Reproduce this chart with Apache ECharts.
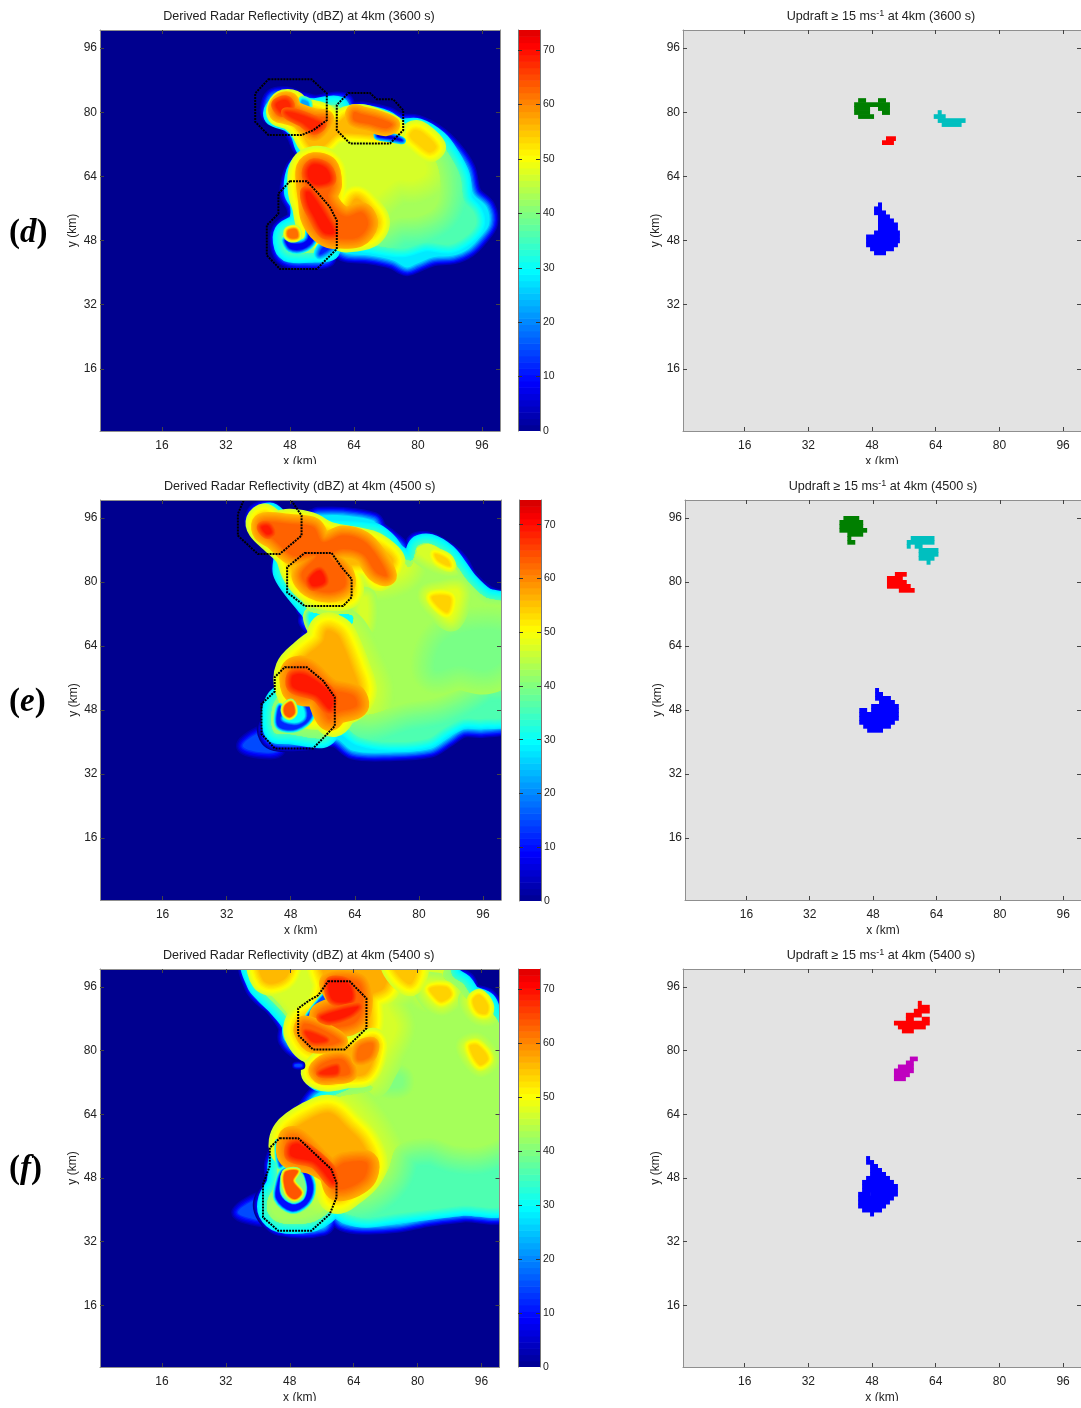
<!DOCTYPE html>
<html><head><meta charset="utf-8">
<style>html,body{margin:0;padding:0;background:#fff}#c{width:1081px;height:1408px}</style>
<script src="https://cdn.jsdelivr.net/npm/echarts@6/dist/echarts.min.js"></script>
</head><body><div id="c"></div>
<script>
// ---- tick labels ----
const kmTicks = [16, 32, 48, 64, 80, 96];
const dbzLabels = [0, 10, 20, 30, 40, 50, 60, 70];
const dbzTicks = [10, 20, 30, 40, 50, 60, 70];
const times = [3600, 4500, 5400];
const letters = ['d', 'e', 'f'];
const colorbarTop = [73.7, 74.6, 73.7];

// ---- reflectivity isolines (km): [dBZ inside, dBZ outside, gradient width km, x,y,x,y,...] ----
const reflectivityD = [
[28,0,2.5, 42.6,80.5,43.8,83.8,47.2,84.25,50.1,83.2,54.25,82.2,57.2,82.6,59.7,83,61.75,82.6,62.6,80.5,66.3,80.5,72.2,79.25,75.5,77.6,79.7,77.2,84.7,74.7,88.8,70.9,92.2,65.9,93.8,59.7,97.2,56.3,97.8,52.2,95.5,48.8,92.6,45.9,88.8,44.25,83.8,43.8,79.7,42.2,77.2,41.3,73.8,43,68,44.25,62.2,44.7,59.7,45.9,58,46.3,57.2,43.4,52.2,43,47.6,43.4,45.5,45.5,45.5,50.5,49.25,53.4,49.25,56.3,47.6,59.7,48.4,64.7,50.1,67.2,53.8,68.8,50.9,70.9,49.25,74.25,46.75,77.6,43.4,78.8],
[36,28,2.5, 44,80.5,47,83,50,81.5,54,81,57,81.5,60,81.5,61.5,79.5,66,79.5,72,78,75,76,80,76,85,73,88,69,90.5,64,91.5,58,94,55,94.5,52,92,49,88,47,82,47.5,76,46,68,47,60,48,58.5,48.5,58,45.5,54,45,48,45,46.5,46.5,46.5,50,50,52.5,50.5,57,49,60,49.5,65,51.5,67.5,55.5,68.5,52,71,50.5,75,48,77.5,44,79],
[43,36,7, 46,81.5,49,81,54,80,58,80,61,79.5,66,78.5,72,76,76,74.5,80,74,83,70,85,66,85.5,60,84,56,80,54,75,53.5,70,51,62,50,58,47.5,54,46.5,48,47,48,50,51.5,53,51.5,57,50.5,60,50.5,65,53,67.5,57,68,54,71,52,75,49,78,45.5,79.5],
[47,43,6, 46.5,81,50,80.5,54,79.5,58,79.5,61,78.5,66,77,71,74.5,74,71,78,72,81,69,82,65,79,63,75,63,72,61,69,58,67,54.5,62,52,60,49,58.5,47,54,48,52,50,52.5,56,51,60,51,65,53,67.5,57,68,55,71,53,75,50,78,47,79.5],
[54,47,2.5, 79,75.5,81,75,84.5,71.5,83,70,80,72,78,74],
[56,47,2.5, 44.5,80.5,46,83,49,83,51,81,54,80.5,57,79.5,58.5,78,60,77.5,62,79,66,79.5,71,78,74.5,76,73,74,66,74.5,60,74.5,57,72,54.5,70.5,52.5,72,50.5,75.5,48,78,45,79],
[57,47,3.5, 51,65,52.5,67.5,56,68,58.5,66,59,62,59,57,62,55.5,64.5,58.5,67.5,56,69.5,52.5,67.5,49.5,62,48.5,60,49,58,49,55,49.5,53,52,52,56.5,51,60],
[8,32,1, 46.8,48,48,46,51,45.8,53.8,48,54,52,53,52,52.5,48.5,51,47.3,48,47.3],
[12,30,1.5, 55.5,44.5,58.5,46.5,58,47.5,56,46],
[5,28,1, 70,74.6,73,74,76,73,73,73.5,70,74],
[22,38,1, 51,83,52.5,82.5,52.5,81,51,81],
[63,56,2, 44.5,81,46,83,48,83,49,81,51,80,54,79,57,78.5,56,76,54,74.5,52,76,50,78,47,79,45,79.5],
[63,56,2, 64,80,66,79.5,70,78.5,73.5,77,72,76,68,77,64,78],
[63,57,2.5, 52,66,54,67.5,57.5,66.5,58.5,62,57.5,59,59,56,62,54,66,55,67.5,52,65,48.8,60,48.5,58,48.5,55,50.5,53,54,52.5,58,52,62],
[62,45,1, 47.5,50.5,49.5,50.8,50,49,49,48.5,47.5,49],
[69,63,1.5, 52.5,65.5,54,67,57,66,58,63,55,62,53,63],
[69,63,1.5, 52,60,53,60,57,54,59,50,56.5,50,54,54,52.5,57],
[68,63,1.2, 44.5,82,47,83,48,81.5,46,80],
[68,63,1.2, 47,80,50,79.5,54,78,56,77,54,75.5,51,77.5,48,79],
];
const reflectivityE = [
[14,0,2, 49,60,52,66,54,71,60,70,60,66,56,64,52,60],
[15,0,2, 36,39,39.5,42,44,43,45,38,40,37.5],
[28,0,2.5, 38.6,95.75,39.8,97.8,42.75,98.25,46,95.75,50.7,95.3,54,96.2,54.8,96.6,61,96.6,68.6,95.3,69.8,93.25,71.9,91.6,75.25,88.7,76,86.2,78.6,86.6,79,90,82.75,90.3,87.75,87.4,90.25,85,92.75,80.75,97,77,100.75,75.75,102,75,102,45,96,43.25,91,43.25,87,40.75,82.75,38.25,72.75,37.4,63.6,37.8,59.4,40.75,55.25,40.75,51,40,43.6,40.4,42,43.25,43.6,46.6,44,49.5,47.3,52.8,48.2,57.4,49.4,60.75,53.6,65,54.6,67.4,52,70.3,52.75,72.4,51.5,73.25,51,75,49,77.4,47.3,80,45.25,83.25,45.25,87,41.5,91.2,39,93.7],
[36,28,2.5, 39.4,95.3,42.75,97.4,46,95,50.7,94.5,57.75,93.25,68.6,92.4,72,90,74.4,87,78.2,85.3,79.8,89,82.75,89.5,87,87,89.4,84,92.3,80,96.5,76.2,102,74,102,47,96,45.75,91,45.75,86,43.25,82,40.75,72.75,40,65.25,41.2,61.5,43.7,58.6,43.25,56,41,47.75,42,44,42.4,43.2,46.6,44.4,50.75,48.6,54,49,57.4,50.7,60.75,54.4,64,55.25,68.25,54,70.3,53.2,72.4,52,74,48.2,78.7,46,82.4,46,87.4,42,91.6],
[43,36,7, 40.25,95.75,42.75,97,45.25,95,51,93.7,57.75,92.4,68.6,91.2,72.75,87.4,77.75,83.7,80.25,88.25,86,86.6,91,80.75,96,75,102,73.25,102,58,96,57,91,54,84.4,51,76,49.5,67.75,47,62.75,47.4,58.6,45.75,57,44,49.4,44,45.25,44,45.25,48.25,49,52.8,49.4,57.4,52,60.75,55.25,63.7,56.5,67.8,62,67.4,63.6,71.6,57.75,72,52.75,72.8,50.7,75.75,47.75,80,46.5,83.7,46,86.6,42,90.75,40.25,93.25],
[39.5,43,6, 84,58,90,59,97,58,102,62,102,67,94,68,86,65],
[30,45,1.5, 52.75,72,57.75,71.6,62,72.4,63.6,70.75,62,67.8,60.25,68.7,57,69,54,67.8],
[47,43,5, 40.75,96.6,43.6,97,46.5,94.5,52,93.7,58.6,92.4,68.6,90.3,73.6,86.2,77,84,75.25,81.6,69.4,80,63.6,80.75,63.6,76.2,61.5,73.7,57,73.7,51.5,75.75,47.75,80.75,46.5,85.75,42.75,90,40.25,92.8],
[47,43,2.5, 79.4,88.25,82.75,89.5,87,86.6,88.6,83.7,84.4,84.5,80.7,86.6],
[48,43,3, 82.3,76.6,86,77.8,89.4,78.25,90.25,76.6,88.2,70.75,86,72],
[47,43,2.5, 65.5,76,67,76,67,69,65.5,69],
[47,43,6, 55.25,67.4,57.75,68.7,61,67.4,62.75,65,66,58.25,68,53.25,67,49.5,63.6,47.4,59.4,45.75,57,45,55,47,50,50,49.5,57.4,52.75,61.2,55.7,64],
[56,47,3, 39.8,95.3,41.5,96.6,44,95,47.75,95.3,52.75,94.5,57.75,92,67.75,90,72,87.4,73.6,85,70.25,80.75,67,84,62,83.7,63.2,80,62.75,76.6,58.6,75.75,54.4,76.6,51,79,48.6,82.4,47,86.6,43.2,90.3,40.25,93.25],
[54,47,1.5, 84,87,87,85.75,87.75,84,84.8,85.3],
[54,48,1.5, 83.2,76.2,87.75,76.2,87,72.4],
[57,47,4.5, 57,67.8,59.4,67,60.7,65,63.5,58,65,53,63.5,50,60.25,48,58.6,45.75,57,47.4,52,48,48.6,53.25,48.6,58,52,61.6,56,65],
[12,36,.8, 45.25,49,44.8,44,49.4,43.25,53.2,46.6,51.5,51.6,49.8,50.75,49.8,46.6,47,45.4],
[30,12,.8, 48.5,50,50.5,49.5,51.5,46.5,50,45,47.5,45,46,46],
[15,30,.8, 59.5,92.6,62,92.4,64.5,92,62,92],
[63,56,2.5, 40.7,94.5,42.3,95,47.75,94.5,53.6,93.7,56,90,61,91.6,66,90.3,69.4,86.6,72,81.6,69.4,82.4,66,87,61,88.25,57.75,86.6,61,82.8,61.5,79,57.75,77.4,52.75,78.7,50.7,82,54.4,86.6,48.6,86.6,43.6,90.75,41,92.4],
[63,57,3, 48.6,58,52,58.25,57.75,53.25,63.6,51.6,64.4,49,59.4,47.4,57.75,45.75,56.5,47.4,54.4,51.6,51,52,48.6,53.25],
[64,40,.8, 46.5,49,48.2,50,49,47.4,47.75,46.2,46.5,47],
[69,63,1.2, 40.7,93.7,42.3,94,43.2,92.4,42,92],
[69,63,1.2, 52.75,80.75,55.25,82.8,56.5,80,53.6,79],
[69,63,1.5, 48.6,56.6,52,56.6,58.2,51.6,57.75,48.25,54.4,51.6,48.6,53.7],
];
const reflectivityF = [
[15,0,2, 35,39.3,38.8,42.25,42.2,43,41.75,37.7,38.8,37.7],
[14,0,1.5, 49,64,52,67,55,70,53,68,50,62],
[28,0,2.5, 38,101.8,87.2,101.8,88.4,99.3,92.2,97.7,93.8,94.75,97.6,93.5,99.7,90.2,102,86,102,40,91.3,39,83,38,74.7,36.4,66.3,36,61.3,36.8,58.8,39,56.3,35.6,45.5,35.6,42.2,38.5,41.3,41.8,43.8,46.8,43.8,51.8,46.75,58.5,48.4,61,51.3,64.3,54.7,68.9,63,72.25,58,71.4,55.5,71.4,53.4,73.5,53.8,76.8,56.3,79.3,53.8,79.75,50.5,79.75,47.2,82.7,47.2,86,43.8,91,41.3,93,38.8,96],
[36,28,2.5, 38.8,102,87,102,88.8,98.5,91.3,96.8,93.4,94,97.2,92.25,98.8,88.5,102,84.3,102,42,91.3,41,83,40,74.7,39,67.2,38,62.2,39,58.8,41,57.2,39,53,36.8,45.5,36.8,42.6,39.3,42.6,42.7,44.7,46.8,45,51.8,47.2,58.5,49.25,61,53,64.3,57.2,67.7,63.8,71,62.2,72.25,55.5,72.25,53.8,74.3,55,77.7,58,80.2,53,80.6,48.8,84,48.4,86.8,44.7,91.4,41.75,94.3,39.7,96.8],
[43,36,7, 39.7,102,86.3,102,86.3,98.5,89.7,96,92.6,92.7,97.2,91,102,82.7,102,60,96.3,56,89.7,56,83,58,75,56,72,49,67,45,60.5,44,58,41.8,55.5,39.3,46.3,37.7,43.4,40.2,44.25,44.3,46,47.7,46.3,51.8,48,58.5,50.5,61,54.7,64.3,59.7,68,68,69.75,68.8,71,64.7,72.7,62.2,73.5,56.3,72.7,54.7,74.3,56.3,77.7,60.5,80.2,53,81.4,49.25,84.75,48.8,87.25,45.5,91.8,42.6,94.75,40.5,97.25],
[40,43,3, 72,74,76,73.5,76,71,72,71],
[47,43,5, 40.5,102,86.3,102,85.5,97.7,83,94.3,79.7,96.8,74.7,95.2,72.2,91.8,74.7,86,72.2,80,69.7,75.2,68,72.7,60.5,72.7,56.3,72.2,53.8,74.3,55.5,77.3,62.2,80.2,53,81,50,84.3,49.7,87.7,46.3,92.7,43,95.2,41,97.7],
[47,43,2.5, 81.3,96.8,86.3,96.8,89.7,94.3,86.3,91,83,92.7],
[47,43,2.5, 92.6,92.7,95,94.3,98.4,91.8,98,88.5,94.7,88.9],
[47,43,2.5, 91.75,81,95,82.25,98.4,77.7,95.5,75.6],
[47,43,6, 59.7,67.7,56.3,66,52.2,61.8,48,58.5,47.2,54.3,50,48,59.7,43.5,62.2,44.3,66.3,46,69,49,71,53.5,69,58.5,66.3,62.5,63,66],
[56,47,3, 40.5,102,48,102,47.2,98.5,43.8,96.8,41.3,97.7],
[57,47,4, 56.3,102,72.2,102,71.75,96,68,93.5,67.6,86,63.8,81.8,53.8,80.6,50.5,84.3,51,87.25,55,90,57.2,96],
[55,47,3, 73.8,102,79.7,102,78.4,96.8,75.5,98.5],
[54,47,1.5, 83,95.6,87.2,96,88.4,94,86,92.25,84.25,93.5],
[54,47,1.5, 93.8,92.7,95.5,94,97.6,91.4,97.2,89.3,95,89.75],
[54,47,1.5, 93,81,95,81.4,97.6,78,95.5,76.4],
[57,47,3, 53.8,74.3,55.5,76.8,59.7,79.75,64.7,81,68.8,82.7,69.7,81,67.2,74.3,62.2,73.5,57.2,72.7],
[57,47,4.5, 58,64.3,53,62.7,48,59,47.6,55.2,57.2,50.2,58.8,47.7,59.7,43.5,63.8,46,66.5,48.5,68,51.8,66,56.8,62.5,60.5],
[10,38,.8, 45,47,44.7,42.7,48.4,39.75,52.2,41.4,53.8,45.2,52.6,49.3,50.5,50.2,46.5,50],
[40,10,.5, 46,48,46,44,48.5,41.8,51,42.5,52,45,51.5,48,50.5,49.5,47,49.5],
[15,36,.8, 45,57,46,57,46.5,52,45.5,51],
[15,40,.6, 56.5,94,57.5,94,56,91,53,89,52,87.5,52.5,89],
[15,0,.8, 49.3,76.5,51,76.5,51,76,49.3,76],
[63,57,2.5, 58,97.25,65,97.25,66.3,92.7,65,87.7,60.5,86,56,87.25,55.5,89.3,59.7,91.8],
[63,57,2, 51.75,86.8,57.2,84.75,60.5,82.25,53.8,81.4,51,84.75],
[63,57,2, 54.7,75.2,57.2,77.25,61.3,77.7,63,74.3,58.8,73.5,55.9,73.5],
[62,57,1.5, 65.5,81,68.8,81.8,68,78.5,65,77.7],
[63,57,3, 48,57.7,50,57.7,58.4,50.2,61.75,51.8,67.2,51.8,66.3,47.7,60,45.2,58,49.3,53.8,51.8,48,53.5],
[64,40,.8, 46.75,49.3,50,49.75,48.8,47.25,50.9,44.3,49.25,42.7,47.2,44.3],
[69,63,1.2, 58,97.25,62.6,96.8,63.4,92.7,58.8,92.7],
[69,63,1.2, 55.9,88.5,65,91,63,89,58,87.5],
[69,63,1.5, 48.4,56,50.5,56.4,58,50.2,58.8,46.8,54.25,51.8,48.4,53.5],
[68,63,1, 52,84.75,57.2,82.7,53.8,82.25],
[68,63,1, 55.5,74.3,59.7,76,59.7,74.3],
];

// ---- tracked-cell outlines (km) ----
const cellsD = [
[42.6,88.2,53.4,88.2,57.2,84.7,57.2,78,53.8,75.5,50.9,74.3,42.6,74.3,39.3,77.6,39.3,84.7],
[62.6,84.8,68,84.8,69.7,83.2,73.8,83.2,76.3,80.5,76.3,75.5,73,72.2,63,72.2,59.7,75.5,59.7,81.8],
[48,62.8,52.2,62.8,55.1,59.7,58,56.3,59.7,53,59.7,45.9,54.7,40.9,45.5,40.9,42.2,44.3,42.2,51.8,45.1,54.7,45.1,59.7],
];
const cellsE = [
[36.5,101,47.75,101,50.7,96.6,50.7,91.6,45.25,87,39.8,87,34.8,91.6,34.8,97],
[51.5,87.25,58.2,87.25,60.7,83.7,63.2,80.75,63.2,76.2,61.1,74,51.5,74,47.1,77.4,47.1,83.7],
[46.5,58.7,52,58.7,56.1,55.3,59,51.2,59,44,53.6,38.4,44,38.4,40.7,42,40.7,49.5,44,52.6,44,56.2],
];
const cellsF = [
[57.6,97.4,63,97.4,67.2,93.1,67.2,85.6,61.75,80.3,53.8,80.3,50.1,83.9,50.1,90.6,53,92.7,55.1,93.9],
[45.5,58,50.1,58,58.4,50.2,59.7,46.8,59.7,43.1,58,38.9,53.4,34.75,45.1,34.75,41.3,38.1,41.3,46.4,43,51,43,55.6],
];

// ---- updraft cells: rows of [y km, first x km, last x km] ----
const updraftD_green = [[83,45,46],[83,50,51],[82,44,52],[81,44,47],[81,50,52],[80,44,47],[80,51,52],[79,45,48]];
const updraftD_cyan = [[80,65,65],[79,64,66],[78,65,71],[77,66,70]];
const updraftD_red = [[73.5,52,53.5],[72.5,51,53]];
const updraftD_blue = [[57,50,50],[56,49,50],[55,49,51],[54,50,52],[53,50,53],[52,50,54],[51,50,54],[50,49,54.5],[49,47,54.5],[48,47,54.5],[47,47,54],[46,48,53],[45,49,51]];
const updraftE_green = [[96,41,44],[95,40,45],[94,40,45],[93,40,46],[92,42,45],[91,42,42],[90,42,43]];
const updraftE_cyan = [[91,58,63],[90,57,63],[89,57,57],[89,59,60],[88,60,64],[87,60,64],[86,60,63],[85,62,62]];
const updraftE_red = [[82,54,56],[81,52,55],[80,52,56],[79,52,57],[78,55,58]];
const updraftE_blue = [[53,49,49],[52,49,50],[51,49,52],[50,50,53],[49,48,54],[48,45,46],[48,48,54],[47,45,54],[46,45,54],[45,45,53],[44,46,52],[43,47,50]];
const updraftF_red = [[92,60,60],[91,60,62],[90,59,62],[89,57,60],[88,57,58],[88,61,62],[87,54,62],[86,55,61],[85,56,58]];
const updraftF_magenta = [[78,58,59],[77,57,58],[76,55,58],[75,54,58],[74,54,57],[73,54,56]];
const updraftF_blue = [[53,47,47],[52,47,48],[51,48,49],[50,48,50],[49,48,51],[48,47,52],[47,46,53],[46,46,54],[45,46,54],[44,45,47],[44,48,54],[43,45,53],[42,45,52],[41,45,51],[40,46,50],[39,48,48]];

const updrafts = [
 [[updraftD_green,'#007F00'],[updraftD_cyan,'#00BFBF'],[updraftD_red,'#FF0000'],[updraftD_blue,'#0000FF']],
 [[updraftE_green,'#007F00'],[updraftE_cyan,'#00BFBF'],[updraftE_red,'#FF0000'],[updraftE_blue,'#0000FF']],
 [[updraftF_red,'#FF0000'],[updraftF_magenta,'#BF00BF'],[updraftF_blue,'#0000FF']],
];
const reflectivity = [reflectivityD, reflectivityE, reflectivityF];
const cells = [cellsD, cellsE, cellsF];

// ---- layout ----
const rows = [
 {top:30,  h:401, left:100, w:400, barL:518, barW:22, barH:401, right:683, rw:400, letterY:236, titleY:10, clipY:464},
 {top:500, h:400, left:100.5, w:400.5, barL:519, barW:22, barH:401, right:685, rw:400, letterY:705, titleY:480, clipY:934},
 {top:969, h:398, left:100, w:399.5, barL:518, barW:22, barH:398, right:683, rw:400, letterY:1172, titleY:949, clipY:1401},
];
const FONT = '"Liberation Sans", Arial, sans-serif';
const TXT = '#222';
const EDGE = '#8f8f8f';

function jet(v){
  const t = 1/64 + (v/80)*(62/64);
  const c = a => Math.round(255*Math.max(0, Math.min(1, 1.5-Math.abs(4*t-a))));
  return 'rgb('+c(3)+','+c(2)+','+c(1)+')';
}
const pairs = a => { const o=[]; for(let i=0;i<a.length;i+=2) o.push([a[i],a[i+1]]); return o; };

const grid=[], xAxis=[], yAxis=[], series=[], title=[], graphic=[];
function addAxes(g){
  const base = {min:0.5,max:100.5,type:'value',splitLine:{show:false},z:6,
    axisLine:{show:true,onZero:false,lineStyle:{color:EDGE,width:1}}};
  const tick = {show:true,inside:true,length:4,customValues:kmTicks,lineStyle:{color:'#444',width:1}};
  const lab = {show:true,customValues:kmTicks,color:TXT,fontSize:12,fontFamily:FONT,margin:9};
  const nameStyle = {color:TXT,fontSize:12,fontFamily:FONT};
  const xi = xAxis.length, yi = yAxis.length;
  xAxis.push(Object.assign({},base,{gridIndex:g,position:'bottom',axisTick:tick,axisLabel:lab,name:'x (km)',nameLocation:'middle',nameGap:25,nameTextStyle:nameStyle}));
  xAxis.push(Object.assign({},base,{gridIndex:g,position:'top',axisTick:tick,axisLabel:{show:false}}));
  yAxis.push(Object.assign({},base,{gridIndex:g,position:'left',axisTick:tick,axisLabel:Object.assign({},lab,{margin:3,padding:[3,0,0,0]}),name:'y (km)',nameLocation:'middle',nameGap:21,nameTextStyle:nameStyle}));
  yAxis.push(Object.assign({},base,{gridIndex:g,position:'right',axisTick:tick,axisLabel:{show:false}}));
  return [xi,yi];
}

rows.forEach((r,k)=>{
  // ---- reflectivity panel ----
  let g = grid.length;
  grid.push({left:r.left,top:r.top,width:r.w,height:r.h,show:true,backgroundColor:jet(0),borderWidth:0});
  let [xi,yi] = addAxes(g);
  const layers = reflectivity[k];
  const envelopeOf = lvl => layers.find(l => l[0]===lvl);
  series.push({type:'custom',xAxisIndex:xi,yAxisIndex:yi,clip:true,silent:true,animation:false,z:2,
    data:layers.map((_,i)=>[i]),
    renderItem(p,api){
      const L = layers[api.value(0)];
      const pts = pairs(L.slice(3)).map(q=>api.coord(q));
      const kmPx = api.size([1,0])[0];
      const strokes=[];
      const steps = Math.max(6, Math.round(L[2]*3));
      for(let i=steps;i>=1;i--){
        const v = L[0] + (L[1]-L[0])*i/steps;
        strokes.push({type:'polygon',shape:{points:pts,smooth:0.35},
          style:{fill:'none',stroke:jet(v),lineWidth:2*L[2]*kmPx*i/steps,lineJoin:'round'}});
      }
      const parent = (L[0]>L[1] && (L[1]===36||L[1]===43)) ? envelopeOf(L[1]) : null;
      const strokeGroup = {type:'group',children:strokes};
      if(parent) strokeGroup.clipPath = {type:'polygon',shape:{points:pairs(parent.slice(3)).map(q=>api.coord(q)),smooth:0.35}};
      return {type:'group',children:[strokeGroup,{type:'polygon',shape:{points:pts,smooth:0.35},
        style:{fill:jet(L[0]),stroke:null}}]};
    }});
  const outlines = cells[k];
  series.push({type:'custom',xAxisIndex:xi,yAxisIndex:yi,clip:true,silent:true,animation:false,z:3,
    data:outlines.map((_,i)=>[i]),
    renderItem(p,api){
      const pts = pairs(outlines[api.value(0)]).map(q=>api.coord(q));
      return {type:'polygon',shape:{points:pts},style:{fill:'none',stroke:'#000',lineWidth:2,lineDash:[2,1]}};
    }});

  // ---- colour bar ----
  g = grid.length;
  grid.push({left:r.barL,top:r.top,width:r.barW,height:r.barH,show:false});
  const top = colorbarTop[k];
  const bx = xAxis.length, by = yAxis.length;
  xAxis.push({gridIndex:g,type:'value',min:0,max:1,show:false});
  const barTick = {show:true,inside:true,length:4,customValues:dbzTicks,lineStyle:{color:'#333',width:1}};
  const barLine = {show:true,onZero:false,lineStyle:{color:'#777',width:1}};
  yAxis.push({gridIndex:g,type:'value',min:0,max:top,position:'right',z:6,splitLine:{show:false},axisLine:barLine,axisTick:barTick,
    axisLabel:{show:true,customValues:dbzLabels,color:TXT,fontSize:10.5,fontFamily:FONT,margin:3,padding:[3,0,0,0]}});
  yAxis.push({gridIndex:g,type:'value',min:0,max:top,position:'left',z:6,splitLine:{show:false},axisLine:barLine,axisTick:barTick,axisLabel:{show:false}});
  const nb = 64, bands = [];
  for(let i=0;i<nb;i++) bands.push([top*i/nb, top*(i+1)/nb]);
  series.push({type:'custom',xAxisIndex:bx,yAxisIndex:by,silent:true,animation:false,z:2,clip:true,
    data:bands,
    renderItem(p,api){
      const a = api.coord([0,api.value(0)]), b = api.coord([1,api.value(1)]);
      return {type:'rect',shape:{x:a[0],y:b[1],width:b[0]-a[0],height:a[1]-b[1]+0.6},
        style:{fill:jet((api.value(0)+api.value(1))/2)}};
    }});

  // ---- updraft panel ----
  g = grid.length;
  grid.push({left:r.right,top:r.top,width:r.rw,height:r.h,show:true,backgroundColor:'#E3E3E3',borderWidth:0});
  [xi,yi] = addAxes(g);
  updrafts[k].forEach(([rowsOf,colour])=>{
    series.push({type:'custom',xAxisIndex:xi,yAxisIndex:yi,clip:true,silent:true,animation:false,z:2,
      data:rowsOf,
      renderItem(p,api){
        const a = api.coord([api.value(1)-0.5, api.value(0)+0.5]);
        const b = api.coord([api.value(2)+0.5, api.value(0)-0.5]);
        return {type:'rect',shape:{x:a[0],y:a[1],width:b[0]-a[0],height:b[1]-a[1]+0.7},style:{fill:colour}};
      }});
  });

  // ---- titles ----
  const tStyle = {color:TXT,fontSize:12.6,fontWeight:'normal',fontFamily:FONT};
  title.push({text:'Derived Radar Reflectivity (dBZ) at 4km ('+times[k]+' s)',left:r.left+r.w/2-1,top:r.titleY,textAlign:'center',textStyle:tStyle,padding:0});
  title.push({text:'Updraft \u2265 15 ms{s|-1} at 4km ('+times[k]+' s)',left:r.right+198,top:r.titleY-1,textAlign:'center',padding:0,
    textStyle:Object.assign({},tStyle,{rich:{s:{fontSize:9,color:TXT,fontFamily:FONT,padding:[0,0,6,0]}}})});

  // ---- panel letter ----
  graphic.push({type:'text',left:9,top:r.letterY-19,silent:true,z:100,
    style:{text:'{p|(}{l|'+letters[k]+'}{p|)}',
      rich:{p:{font:'bold 33px "Liberation Serif", serif',fill:'#000'},l:{font:'italic bold 33px "Liberation Serif", serif',fill:'#000'}}}});
  // the reference is cropped just under each x-axis name
  graphic.push({type:'rect',left:r.left+150,top:r.clipY,shape:{width:100,height:8},style:{fill:'#fff'},silent:true,z:100});
  graphic.push({type:'rect',left:r.right+150,top:r.clipY,shape:{width:100,height:8},style:{fill:'#fff'},silent:true,z:100});
});

const chart = echarts.init(document.getElementById('c'),null,{renderer:'canvas',width:1081,height:1408});
chart.setOption({animation:false,backgroundColor:'#fff',grid,xAxis,yAxis,series,title,graphic});
</script></body></html>
